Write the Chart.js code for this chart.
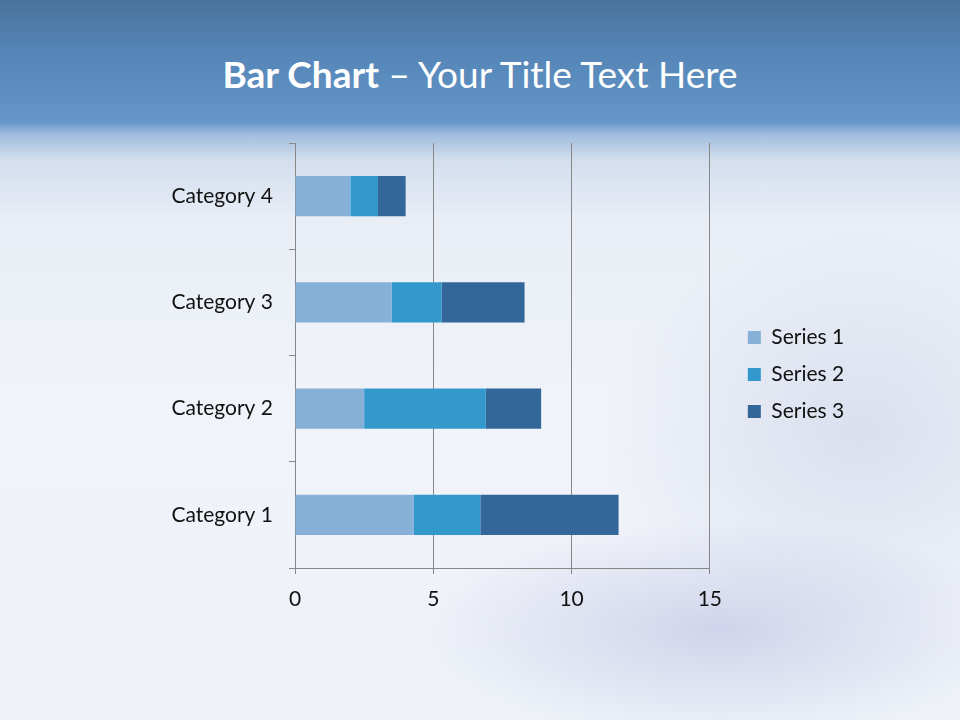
<!DOCTYPE html>
<html>
<head>
<meta charset="utf-8">
<script src="https://cdn.jsdelivr.net/npm/chart.js@4"></script>
<style>
  html, body { margin: 0; padding: 0; }
  body {
    width: 960px; height: 720px; overflow: hidden; position: relative;
    font-family: Lato, "Open Sans", sans-serif;
    background:
      radial-gradient(ellipse 300px 110px at 720px 630px, rgba(170,175,220,0.45), rgba(170,175,220,0) 100%),
      radial-gradient(ellipse 260px 200px at 860px 430px, rgba(190,200,225,0.45), rgba(190,200,225,0) 100%),
      linear-gradient(to bottom, #4a729c 0px, #5485b6 50px, #6496c8 122px, #9fbcdd 134px, #d3deee 160px, #e9eef6 220px, #f0f3f9 400px, #eef2f8 720px);
  }
  #title {
    position: absolute; left: 0; top: 51px; width: 960px; text-align: center;
    color: #fff; font-size: 37px; line-height: 46px;
  }
  #title b { font-weight: 700; }
  canvas { position: absolute; left: 0; top: 0; }
</style>
</head>
<body>
<div id="title"><b>Bar Chart</b> – Your Title Text Here</div>
<canvas id="barChart" width="960" height="720"></canvas>
<script>
// 資料
const categories = ['Category 1', 'Category 2', 'Category 3', 'Category 4'];
const seriesNames = ['Series 1', 'Series 2', 'Series 3'];
const series1 = [4.3, 2.5, 3.5, 2];
const series2 = [2.4, 4.4, 1.8, 1];
const series3 = [5, 2, 3, 1];
const xTicks = [0, 5, 10, 15];

const colors = ['#86b0d8', '#3399cc', '#336699'];
const axisGray = '#878787';
const font = { family: 'Lato, "Open Sans", sans-serif', size: 21 };

const ctx = document.getElementById('barChart').getContext('2d');
const chart = new Chart(ctx, {
    type: 'bar',
    data: {
        labels: categories,
        datasets: [series1, series2, series3].map((d, i) => ({
            label: seriesNames[i],
            data: d,
            backgroundColor: colors[i],
            borderWidth: 0,
            categoryPercentage: 1,
            barPercentage: 0.38
        }))
    },
    options: {
        indexAxis: 'y',
        responsive: false,
        animation: false,
        devicePixelRatio: 1,
        layout: { padding: { top: 143, bottom: 114, left: 166, right: 115 } },
        plugins: {
            title: { display: false },
            tooltip: { enabled: false },
            legend: {
                position: 'right',
                fullSize: true,
                labels: { boxWidth: 13, boxHeight: 13, padding: 16, color: '#111', font: font }
            }
        },
        scales: {
            x: {
                stacked: true,
                min: xTicks[0], max: xTicks[xTicks.length - 1],
                afterBuildTicks: s => { s.ticks = xTicks.map(v => ({ value: v })); },
                afterFit: s => { s.height = 38; },
                grid: { color: axisGray, lineWidth: 1, tickLength: 6, drawOnChartArea: true },
                border: { display: true, color: axisGray },
                ticks: { color: '#111', font: font, padding: 13 }
            },
            y: {
                stacked: true,
                reverse: true,
                afterFit: s => { s.width = 129; },
                grid: { display: true, drawOnChartArea: false, color: axisGray, tickLength: 6, offset: true },
                border: { display: true, color: axisGray },
                ticks: { color: '#111', font: font, padding: 16 }
            },
            gap: {
                type: 'category',
                position: 'right',
                labels: categories,
                grid: { display: false },
                border: { display: false },
                ticks: { display: false },
                afterFit: s => { s.width = 22; }
            }
        }
    }
});
</script>
</body>
</html>
